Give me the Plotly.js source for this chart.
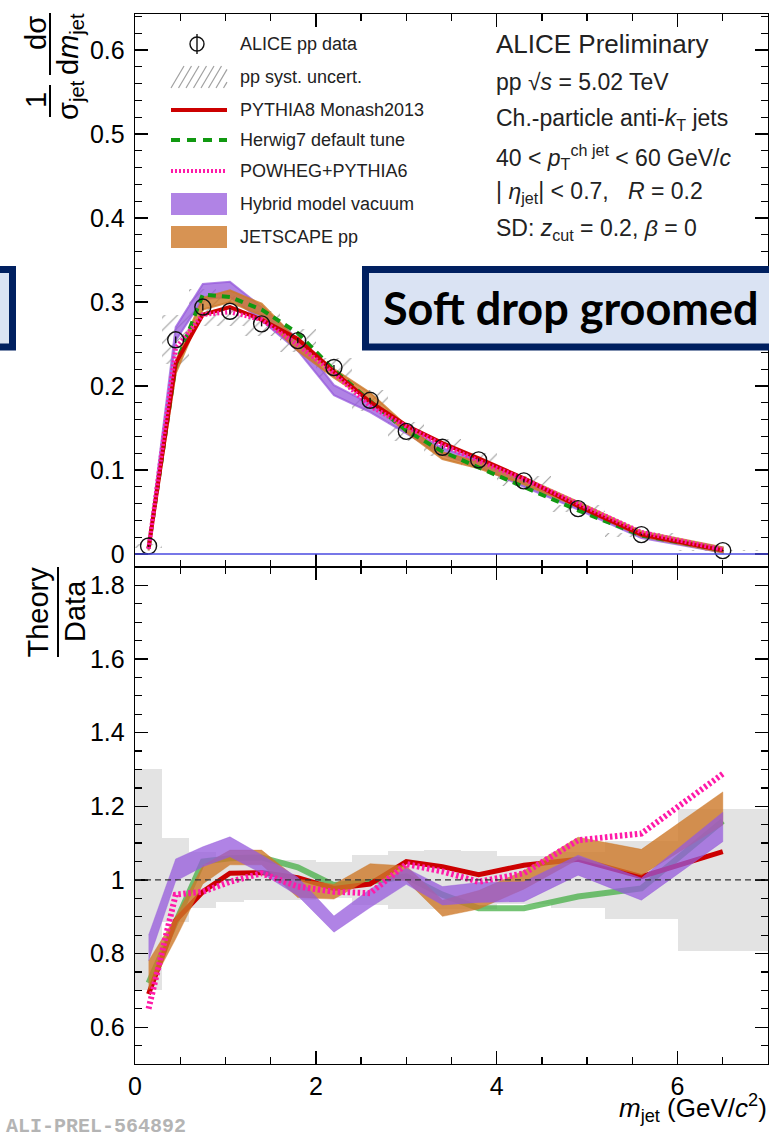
<!DOCTYPE html>
<html>
<head>
<meta charset="utf-8">
<script src="https://cdn.plot.ly/plotly-3.0.1.min.js"></script>
<style>
  html, body { margin: 0; padding: 0; background: #fff; }
  #chart { width: 769px; height: 1132px; }
</style>
</head>
<body>
<div id="chart"></div>
<script>
// ---------------- data ----------------
const massCenters = [0.15, 0.45, 0.75, 1.05, 1.4, 1.8, 2.2, 2.6, 3.0, 3.4, 3.8, 4.3, 4.9, 5.6, 6.5];
const binWidths   = [0.3, 0.3, 0.3, 0.3, 0.4, 0.4, 0.4, 0.4, 0.4, 0.4, 0.4, 0.6, 0.6, 0.8, 1.0];

const aliceData = [0.0095, 0.255, 0.294, 0.289, 0.274, 0.254, 0.222, 0.183, 0.146, 0.127, 0.112, 0.087, 0.054, 0.023, 0.004];
const aliceStat = [0.001, 0.004, 0.004, 0.004, 0.003, 0.003, 0.003, 0.003, 0.002, 0.002, 0.002, 0.002, 0.0015, 0.001, 0.0008];
const aliceSysRel = [0.30, 0.115, 0.075, 0.061, 0.054, 0.054, 0.05, 0.068, 0.078, 0.08, 0.078, 0.065, 0.075, 0.107, 0.194];

// upper panel: model distributions
const pythiaTop   = [0.0066, 0.227, 0.285, 0.294, 0.279, 0.256, 0.217, 0.181, 0.153, 0.132, 0.114, 0.090, 0.057, 0.023, 0.0043];
const herwigTop   = [0.0068, 0.225, 0.309, 0.306, 0.291, 0.263, 0.219, 0.182, 0.147, 0.122, 0.103, 0.080, 0.052, 0.022, 0.0046];
const powhegTop   = [0.0062, 0.245, 0.285, 0.288, 0.279, 0.249, 0.215, 0.176, 0.152, 0.130, 0.111, 0.089, 0.060, 0.026, 0.0052];
const hybridTop   = [0.0077, 0.262, 0.3125, 0.315, 0.286, 0.249, 0.195, 0.174, 0.147, 0.122, 0.108, 0.084, 0.056, 0.022, 0.0046];
const hybridTopErr= [0.003, 0.008, 0.009, 0.009, 0.008, 0.007, 0.006, 0.005, 0.004, 0.004, 0.004, 0.004, 0.003, 0.003, 0.003];
const jetscapeTop = [0.0070, 0.222, 0.298, 0.307, 0.291, 0.248, 0.215, 0.187, 0.149, 0.117, 0.106, 0.087, 0.059, 0.024, 0.0048];
const jetscapeTopErr = [0.003, 0.007, 0.007, 0.007, 0.007, 0.006, 0.005, 0.005, 0.004, 0.004, 0.004, 0.004, 0.003, 0.003, 0.003];

// lower panel: Theory / Data
const pythiaRatio   = [0.69, 0.89, 0.968, 1.018, 1.02, 1.006, 0.977, 0.989, 1.05, 1.036, 1.014, 1.04, 1.056, 1.009, 1.077];
const herwigRatio   = [0.72, 0.883, 1.05, 1.059, 1.061, 1.034, 0.986, 0.995, 1.01, 0.96, 0.923, 0.923, 0.955, 0.977, 1.16];
const powhegRatio   = [0.65, 0.96, 0.968, 0.995, 1.018, 0.982, 0.968, 0.964, 1.043, 1.023, 0.995, 1.018, 1.108, 1.126, 1.288];
const hybridRatio   = [0.815, 1.027, 1.063, 1.09, 1.043, 0.982, 0.88, 0.95, 1.01, 0.957, 0.966, 0.968, 1.04, 0.975, 1.144];
const hybridRatioErr= [0.035, 0.03, 0.027, 0.027, 0.025, 0.025, 0.022, 0.025, 0.022, 0.025, 0.027, 0.027, 0.027, 0.03, 0.04];
const jetscapeRatio = [0.74, 0.87, 1.014, 1.061, 1.061, 0.977, 0.968, 1.024, 1.018, 0.923, 0.946, 1.0, 1.086, 1.048, 1.194];
const jetscapeRatioErr = [0.04, 0.03, 0.025, 0.02, 0.02, 0.025, 0.02, 0.02, 0.02, 0.022, 0.025, 0.025, 0.03, 0.035, 0.045];

const legendLabels = ["ALICE pp data", "pp syst. uncert.", "PYTHIA8 Monash2013", "Herwig7 default tune",
                      "POWHEG+PYTHIA6", "Hybrid model vacuum", "JETSCAPE pp"];

// ---------------- styles ----------------
const FONT = "Liberation Sans, Arial, Helvetica, sans-serif";
const C_RED = "#cc0000", C_GREEN = "#119911", C_MAG = "#ff1aa8";
const C_PURPLE = "rgba(150,90,220,0.75)", C_ORANGE = "rgba(205,120,40,0.8)";
const C_GREEN_BAND = "rgba(70,175,70,0.75)";

function band(xs, c, e, color, xa, ya, outline) {
  const hi = c.map((v, i) => v + e[i]);
  const lo = c.map((v, i) => v - e[i]);
  return {
    x: xs.concat(xs.slice().reverse()),
    y: hi.concat(lo.slice().reverse()),
    xaxis: xa, yaxis: ya, type: "scatter", mode: "lines",
    fill: "toself", fillcolor: color,
    line: { color: color, width: outline || 0.5 },
    hoverinfo: "skip", showlegend: false
  };
}

const traces = [];
// lower panel: data systematic boxes
traces.push({
  type: "bar", x: massCenters, y: aliceSysRel.map(v => 2 * v), base: aliceSysRel.map(v => 1 - v),
  width: binWidths, xaxis: "x", yaxis: "y",
  marker: { color: "#e3e3e3", line: { width: 0 } }, showlegend: false, hoverinfo: "skip"
});
// upper panel: hatched systematic boxes
traces.push({
  type: "bar", x: massCenters,
  y: aliceData.map((v, i) => 2 * v * aliceSysRel[i]),
  base: aliceData.map((v, i) => v - v * aliceSysRel[i]),
  width: binWidths, xaxis: "x2", yaxis: "y2",
  marker: { color: "rgba(0,0,0,0)", line: { width: 0 },
            pattern: { shape: "/", fgcolor: "#9a9a9a", bgcolor: "rgba(0,0,0,0)", size: 9, solidity: 0.12 } },
  showlegend: false, hoverinfo: "skip"
});

// upper panel models
traces.push(band(massCenters, hybridTop, hybridTopErr, C_PURPLE, "x2", "y2", 2));
traces.push(band(massCenters, jetscapeTop, jetscapeTopErr, C_ORANGE, "x2", "y2", 2));
traces.push({ type: "scatter", mode: "lines", x: massCenters, y: herwigTop, xaxis: "x2", yaxis: "y2",
  line: { color: C_GREEN, width: 4, dash: "8px,6px" }, showlegend: false, hoverinfo: "skip" });
traces.push({ type: "scatter", mode: "lines", x: massCenters, y: pythiaTop, xaxis: "x2", yaxis: "y2",
  line: { color: C_RED, width: 4 }, showlegend: false, hoverinfo: "skip" });
traces.push({ type: "scatter", mode: "lines", x: massCenters, y: powhegTop, xaxis: "x2", yaxis: "y2",
  line: { color: C_MAG, width: 4.5, dash: "2px,2px" }, showlegend: false, hoverinfo: "skip" });
// data points
traces.push({ type: "scatter", mode: "markers", x: massCenters, y: aliceData, xaxis: "x2", yaxis: "y2",
  marker: { symbol: "circle-open", size: 16, color: "#111", line: { width: 1.4, color: "#111" } },
  error_y: { type: "data", array: aliceStat, visible: true, color: "#111", thickness: 1.4, width: 0 },
  showlegend: false, hoverinfo: "skip" });

// lower panel ratios
traces.push({ type: "scatter", mode: "lines", x: massCenters, y: herwigRatio, xaxis: "x", yaxis: "y",
  line: { color: C_GREEN_BAND, width: 6 }, showlegend: false, hoverinfo: "skip" });
traces.push({ type: "scatter", mode: "lines", x: massCenters, y: pythiaRatio, xaxis: "x", yaxis: "y",
  line: { color: C_RED, width: 5 }, showlegend: false, hoverinfo: "skip" });
traces.push(band(massCenters, jetscapeRatio, jetscapeRatioErr, C_ORANGE, "x", "y"));
traces.push(band(massCenters, hybridRatio, hybridRatioErr, C_PURPLE, "x", "y"));
traces.push({ type: "scatter", mode: "lines", x: massCenters, y: powhegRatio, xaxis: "x", yaxis: "y",
  line: { color: C_MAG, width: 6, dash: "2.5px,2.5px" }, showlegend: false, hoverinfo: "skip" });

// ---------------- layout helpers (pixel -> paper) ----------------
const L = 135, R = 768, T = 14, B = 1064;
const W = R - L, H = B - T;
const px = v => (v - L) / W;
const py = v => (B - v) / H;
const split = (B - 567) / H;

const shapes = [];
const annotations = [];
const rotated = [];

function addRotated(text, cx, cy, size) {
  rotated.push({ i: annotations.length, cx: cx, cy: cy });
  annotations.push({ xref: "paper", yref: "paper", x: px(cx), y: py(cy), xanchor: "center", yanchor: "middle",
    text: text, showarrow: false, font: { family: FONT, size: size, color: "#000" } });
}

// reference lines
shapes.push({ type: "line", xref: "x", yref: "y", x0: 0, x1: 7, y0: 1, y1: 1,
  line: { color: "#333", width: 1.2, dash: "6px,4px" }, layer: "above" });
shapes.push({ type: "line", xref: "x2", yref: "y2", x0: 0, x1: 7, y0: 0, y1: 0,
  line: { color: "#4a4ae0", width: 1.5 }, layer: "above" });

// legend
const legY = [44, 77, 110, 140, 171, 204, 237];
const sx0 = 171, sx1 = 227;
shapes.push({ type: "circle", xref: "paper", yref: "paper", x0: px(190), x1: px(204), y0: py(51), y1: py(37),
  line: { color: "#111", width: 1.4 } });
shapes.push({ type: "line", xref: "paper", yref: "paper", x0: px(197), x1: px(197), y0: py(34), y1: py(54),
  line: { color: "#111", width: 1.4 } });
for (let k = 0; k < 8; k++) {
  const x0 = sx0 + k * 7.5;
  const x1 = Math.min(x0 + 13, sx1);
  const yb = legY[1] + 11, yt = yb - (x1 - x0) * 22 / 13;
  shapes.push({ type: "line", xref: "paper", yref: "paper", x0: px(x0), x1: px(x1), y0: py(yb), y1: py(yt),
    line: { color: "#a0a0a0", width: 1.2 } });
}
shapes.push({ type: "line", xref: "paper", yref: "paper", x0: px(sx0), x1: px(sx1), y0: py(legY[2]), y1: py(legY[2]),
  line: { color: C_RED, width: 4 } });
shapes.push({ type: "line", xref: "paper", yref: "paper", x0: px(sx0), x1: px(sx1), y0: py(legY[3]), y1: py(legY[3]),
  line: { color: C_GREEN, width: 4, dash: "9px,7px" } });
shapes.push({ type: "line", xref: "paper", yref: "paper", x0: px(sx0), x1: px(sx1), y0: py(legY[4]), y1: py(legY[4]),
  line: { color: C_MAG, width: 4, dash: "2px,2px" } });
shapes.push({ type: "rect", xref: "paper", yref: "paper", x0: px(sx0), x1: px(sx1), y0: py(legY[5] + 11), y1: py(legY[5] - 11),
  fillcolor: C_PURPLE, line: { width: 0 } });
shapes.push({ type: "rect", xref: "paper", yref: "paper", x0: px(sx0), x1: px(sx1), y0: py(legY[6] + 11), y1: py(legY[6] - 11),
  fillcolor: C_ORANGE, line: { width: 0 } });
legendLabels.forEach((t, i) => {
  annotations.push({ xref: "paper", yref: "paper", x: px(238), y: py(legY[i]), xanchor: "left", yanchor: "middle",
    text: t, showarrow: false, font: { family: FONT, size: 18, color: "#222" } });
});

// right-side text block
const infoLines = [
  ["ALICE Preliminary", 44, 26],
  ["pp \u221A<i>s</i> = 5.02 TeV", 82, 23],
  ["Ch.-particle anti-<i>k</i><sub>T</sub> jets", 120, 23],
  ["40 < <i>p</i><sub>T</sub><sup>ch jet</sup> < 60 GeV/<i>c</i>", 157, 23],
  ["| <i>\u03B7</i><sub>jet</sub>| < 0.7,\u00A0\u00A0\u00A0<i>R</i> = 0.2", 193, 23],
  ["SD: <i>z</i><sub>cut</sub> = 0.2, <i>\u03B2</i> = 0", 229, 23]
];
infoLines.forEach(([t, y, s]) => {
  annotations.push({ xref: "paper", yref: "paper", x: px(494), y: py(y), xanchor: "left", yanchor: "middle",
    text: t, showarrow: false, font: { family: FONT, size: s, color: "#222" } });
});

// "Soft drop groomed" box and cut-off box on the left
shapes.push({ type: "rect", xref: "paper", yref: "paper", x0: px(365.5), x1: px(800), y0: py(347), y1: py(269.5),
  fillcolor: "#dae3f3", line: { color: "#002060", width: 7 }, layer: "above" });
shapes.push({ type: "rect", xref: "paper", yref: "paper", x0: px(-30), x1: px(12.5), y0: py(347), y1: py(269.5),
  fillcolor: "#dae3f3", line: { color: "#002060", width: 7 }, layer: "above" });
annotations.push({ xref: "paper", yref: "paper", x: px(571), y: py(308), xanchor: "center", yanchor: "middle",
  text: "<b>Soft drop groomed</b>", showarrow: false, font: { family: "Lato, Noto Sans, sans-serif", size: 45, color: "#000" } });

// y-axis title, upper panel (rotated fractions)
const YT = 29;
addRotated("1", 36, 100, YT);
addRotated("\u03C3<sub>jet</sub>", 70, 100, YT);
shapes.push({ type: "line", xref: "paper", yref: "paper", x0: px(50), x1: px(50), y0: py(85), y1: py(117), line: { color: "#000", width: 2 } });
addRotated("d\u03C3", 36, 33, YT);
addRotated("d<i>m</i><sub>jet</sub>", 70, 44, YT);
shapes.push({ type: "line", xref: "paper", yref: "paper", x0: px(50), x1: px(50), y0: py(13), y1: py(75), line: { color: "#000", width: 2 } });

// y-axis title, lower panel
addRotated("Theory", 38, 612, YT);
shapes.push({ type: "line", xref: "paper", yref: "paper", x0: px(58), x1: px(58), y0: py(567), y1: py(657), line: { color: "#000", width: 2 } });
addRotated("Data", 75, 611, YT);

// x-axis title
annotations.push({ xref: "paper", yref: "paper", x: px(769), y: py(1108), xanchor: "right", yanchor: "middle",
  text: "<i>m</i><sub>jet</sub> (GeV/<i>c</i><sup>2</sup>)", showarrow: false, font: { family: FONT, size: 26, color: "#000" } });

// preliminary id
annotations.push({ xref: "paper", yref: "paper", x: px(4), y: py(1126), xanchor: "left", yanchor: "middle",
  text: "<b>ALI-PREL-564892</b>", showarrow: false, font: { family: "Liberation Mono, Courier New, monospace", size: 20, color: "#b4b4b4" } });

const axisCommon = {
  ticks: "inside", ticklen: 13, tickwidth: 1.3, tickcolor: "#000",
  showline: true, linecolor: "#000", linewidth: 1.3, mirror: "allticks",
  showgrid: false, zeroline: false,
  tickfont: { family: FONT, size: 25, color: "#000" }
};

const layout = {
  width: 769, height: 1132,
  margin: { l: L, r: 769 - R, t: T, b: 1132 - B, pad: 0 },
  paper_bgcolor: "#fff", plot_bgcolor: "rgba(0,0,0,0)",
  showlegend: false, barmode: "overlay", bargap: 0,
  xaxis: Object.assign({}, axisCommon, { domain: [0, 1], anchor: "y", range: [0, 7], tick0: 0, dtick: 2,
    minor: { dtick: 0.5, ticks: "inside", ticklen: 7, tickwidth: 1.3, tickcolor: "#000", showgrid: false } }),
  xaxis2: Object.assign({}, axisCommon, { domain: [0, 1], anchor: "y2", matches: "x", range: [0, 7], tick0: 0, dtick: 2,
    showticklabels: false,
    minor: { dtick: 0.5, ticks: "inside", ticklen: 7, tickwidth: 1.3, tickcolor: "#000", showgrid: false } }),
  yaxis: Object.assign({}, axisCommon, { domain: [0, split], anchor: "x", range: [0.5, 1.85], tick0: 0, dtick: 0.2,
    ticklabelstandoff: 4,
    minor: { dtick: 0.05, ticks: "inside", ticklen: 7, tickwidth: 1.3, tickcolor: "#000", showgrid: false } }),
  yaxis2: Object.assign({}, axisCommon, { domain: [split, 1], anchor: "x2", range: [-0.0155, 0.6429], tick0: 0, dtick: 0.1,
    ticklabelstandoff: 4,
    minor: { dtick: 0.02, ticks: "inside", ticklen: 7, tickwidth: 1.3, tickcolor: "#000", showgrid: false } }),
  shapes: shapes,
  annotations: annotations
};

function rotateTitles(gd) {
  const root = gd.getBoundingClientRect();
  rotated.forEach(r => {
    const grp = gd.querySelector('.annotation[data-index="' + r.i + '"] .annotation-text-g');
    if (!grp) return;
    grp.removeAttribute("transform");
    const bb = grp.getBoundingClientRect();
    const cx = bb.left - root.left + bb.width / 2;
    const cy = bb.top - root.top + bb.height / 2;
    grp.setAttribute("transform",
      "translate(" + (r.cx - cx) + "," + (r.cy - cy) + ") rotate(-90," + cx + "," + cy + ")");
  });
}

Plotly.newPlot("chart", traces, layout, { staticPlot: true, displayModeBar: false }).then(rotateTitles);
</script>
</body>
</html>
